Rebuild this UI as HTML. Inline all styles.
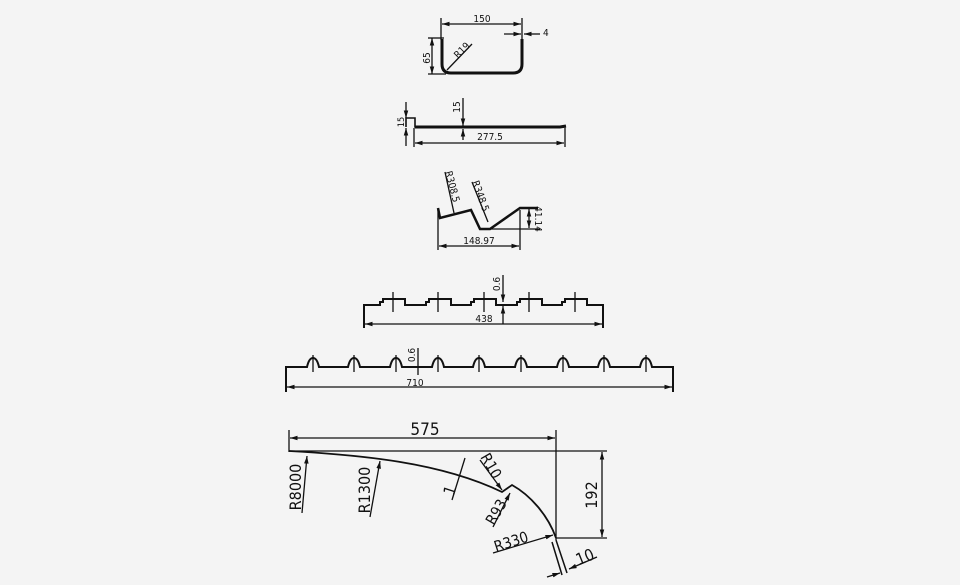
<!DOCTYPE html>
<html><head><meta charset="utf-8"><style>
html,body{margin:0;padding:0;background:#f4f4f4}
svg{display:block}
text{font-family:"DejaVu Sans Condensed","Liberation Sans",sans-serif;fill:#111}
</style></head><body>
<svg width="960" height="585" viewBox="0 0 960 585" xmlns="http://www.w3.org/2000/svg">
<defs>
<marker id="a" viewBox="0 0 10 6" refX="10" refY="3" markerWidth="6" markerHeight="3.5" orient="auto-start-reverse"><path d="M0,0L10,3L0,6z" fill="#111"/></marker>
</defs>
<rect width="960" height="585" fill="#f4f4f4"/>
<g stroke="#111" fill="none" stroke-width="1.3">
<line x1="441" y1="18" x2="441" y2="40"/>
<line x1="522" y1="18" x2="522" y2="42"/>
<line x1="442" y1="24" x2="521" y2="24" marker-start="url(#a)" marker-end="url(#a)"/>
<line x1="504" y1="34" x2="521" y2="34" marker-end="url(#a)"/>
<line x1="540" y1="34" x2="524" y2="34" marker-end="url(#a)"/>
<line x1="428" y1="38" x2="444" y2="38"/>
<line x1="428" y1="74" x2="446" y2="74"/>
<line x1="432" y1="38" x2="432" y2="74" marker-start="url(#a)" marker-end="url(#a)"/>
<line x1="447" y1="70" x2="472" y2="44"/>
<path d="M442,39 V64 Q442,73 451,73 H513 Q522,73 522,64 V39" stroke-width="3"/>
<path d="M406,127 V118 H415 V127 H566" stroke-width="1.6"/>
<path d="M415,127 H560 L566,126" stroke-width="3"/>
<line x1="406" y1="102" x2="406" y2="118" marker-end="url(#a)"/>
<line x1="406" y1="146" x2="406" y2="128" marker-end="url(#a)"/>
<line x1="463" y1="98" x2="463" y2="126" marker-end="url(#a)"/>
<line x1="463" y1="140" x2="463" y2="129" marker-end="url(#a)"/>
<line x1="414" y1="128" x2="414" y2="147"/>
<line x1="565" y1="128" x2="565" y2="147"/>
<line x1="415" y1="143" x2="564" y2="143" marker-start="url(#a)" marker-end="url(#a)"/>
<path d="M438,208 L440,218 L471,210 L480,229 L490,229 L520,208 L538,208" stroke-width="2.5"/>
<line x1="490" y1="229" x2="540" y2="229"/>
<line x1="529" y1="209" x2="529" y2="228" marker-start="url(#a)" marker-end="url(#a)"/>
<line x1="438" y1="210" x2="438" y2="250"/>
<line x1="520" y1="210" x2="520" y2="250"/>
<line x1="439" y1="246" x2="519" y2="246" marker-start="url(#a)" marker-end="url(#a)"/>
<line x1="445" y1="172" x2="454" y2="213"/>
<line x1="472" y1="182" x2="488" y2="222"/>
<path d="M364,328 V305 H380 V302 H383 V299 H405 V305 H426 V302 H429 V299 H451 V305 H471 V302 H474 V299 H496 V305 H517 V302 H520 V299 H542 V305 H562 V302 H565 V299 H587 V305 H603 V328" stroke-width="2"/>
<g>
<line x1="393" y1="292" x2="393" y2="312"/><line x1="438" y1="292" x2="438" y2="312"/>
<line x1="484" y1="292" x2="484" y2="312"/><line x1="529" y1="292" x2="529" y2="312"/>
<line x1="575" y1="292" x2="575" y2="312"/>
</g>
<line x1="503" y1="275" x2="503" y2="302" marker-end="url(#a)"/>
<line x1="503" y1="324" x2="503" y2="306" marker-end="url(#a)"/>
<line x1="365" y1="324" x2="602" y2="324" marker-start="url(#a)" marker-end="url(#a)"/>
<path d="M286,392 V367 H307 Q309,358 313,358 Q317,358 319,367 H348 Q350,358 354,358 Q358,358 360,367 H390 Q392,358 396,358 Q400,358 402,367 H432 Q434,358 438,358 Q442,358 444,367 H473 Q475,358 479,358 Q483,358 485,367 H515 Q517,358 521,358 Q525,358 527,367 H557 Q559,358 563,358 Q567,358 569,367 H598 Q600,358 604,358 Q608,358 610,367 H640 Q642,358 646,358 Q650,358 652,367 H673 V392" stroke-width="2"/>
<g>
<line x1="313" y1="355" x2="313" y2="372"/><line x1="354" y1="355" x2="354" y2="372"/>
<line x1="396" y1="355" x2="396" y2="372"/><line x1="438" y1="355" x2="438" y2="372"/>
<line x1="479" y1="355" x2="479" y2="372"/><line x1="521" y1="355" x2="521" y2="372"/>
<line x1="563" y1="355" x2="563" y2="372"/><line x1="604" y1="355" x2="604" y2="372"/>
<line x1="646" y1="355" x2="646" y2="372"/>
</g>
<line x1="418" y1="348" x2="418" y2="375"/>
<line x1="287" y1="387" x2="672" y2="387" marker-start="url(#a)" marker-end="url(#a)"/>
<line x1="289" y1="430" x2="289" y2="452"/>
<line x1="290" y1="438" x2="555" y2="438" marker-start="url(#a)" marker-end="url(#a)"/>
<line x1="289" y1="451" x2="607" y2="451"/>
<line x1="556" y1="430" x2="556" y2="540"/>
<line x1="556" y1="538" x2="607" y2="538"/>
<line x1="602" y1="452" x2="602" y2="537" marker-start="url(#a)" marker-end="url(#a)"/>
<path d="M289,451 C360,455 440,462 502,492 L512,485 C530,495 548,515 556,538" stroke-width="1.8"/>
<path d="M552,542 L562,575 M556,540 L567,573" stroke-width="1.5"/>
<line x1="302" y1="513" x2="307" y2="456" marker-end="url(#a)"/>
<line x1="370" y1="517" x2="380" y2="461" marker-end="url(#a)"/>
<line x1="465" y1="458" x2="452" y2="500"/>
<line x1="480" y1="460" x2="502" y2="490" marker-end="url(#a)"/>
<line x1="493" y1="527" x2="510" y2="493" marker-end="url(#a)"/>
<line x1="493" y1="553" x2="553" y2="535" marker-end="url(#a)"/>
<line x1="547" y1="577" x2="560" y2="573" marker-end="url(#a)"/>
<line x1="597" y1="557" x2="569" y2="569" marker-end="url(#a)"/>
</g>
<text x="482" y="22" font-size="10" text-anchor="middle">150</text>
<text x="543" y="36" font-size="10">4</text>
<text transform="translate(430,58) rotate(-90)" font-size="10" text-anchor="middle">65</text>
<text transform="translate(458,59) rotate(-45)" font-size="10">R19</text>
<text transform="translate(460,107) rotate(-90)" font-size="10" text-anchor="middle">15</text>
<text transform="translate(404,122) rotate(-90)" font-size="9" text-anchor="middle">15</text>
<text x="490" y="140" font-size="10" text-anchor="middle">277.5</text>
<text transform="translate(445,172) rotate(75)" font-size="10">R308.5</text>
<text transform="translate(472,182) rotate(70)" font-size="10">R348.5</text>
<text transform="translate(535,219) rotate(90)" font-size="10" text-anchor="middle">41.14</text>
<text x="479" y="244" font-size="10" text-anchor="middle">148.97</text>
<text transform="translate(500,284) rotate(-90)" font-size="10" text-anchor="middle">0.6</text>
<text x="484" y="322" font-size="10" text-anchor="middle">438</text>
<text transform="translate(415,355) rotate(-90)" font-size="10" text-anchor="middle">0.6</text>
<text x="415" y="386" font-size="10" text-anchor="middle">710</text>
<text x="425" y="435" font-size="17" text-anchor="middle">575</text>
<text transform="translate(301,487) rotate(-90)" font-size="16" text-anchor="middle">R8000</text>
<text transform="translate(370,490) rotate(-90)" font-size="16" text-anchor="middle">R1300</text>
<text transform="translate(455,492) rotate(-72)" font-size="16" text-anchor="middle">1</text>
<text transform="translate(480,457) rotate(60)" font-size="15">R10</text>
<text transform="translate(494,526) rotate(-60)" font-size="15">R93</text>
<text transform="translate(496,552) rotate(-18)" font-size="15">R330</text>
<text transform="translate(597,495) rotate(-90)" font-size="16" text-anchor="middle">192</text>
<text transform="translate(587,562) rotate(-22)" font-size="16" text-anchor="middle">10</text>
</svg>
</body></html>
